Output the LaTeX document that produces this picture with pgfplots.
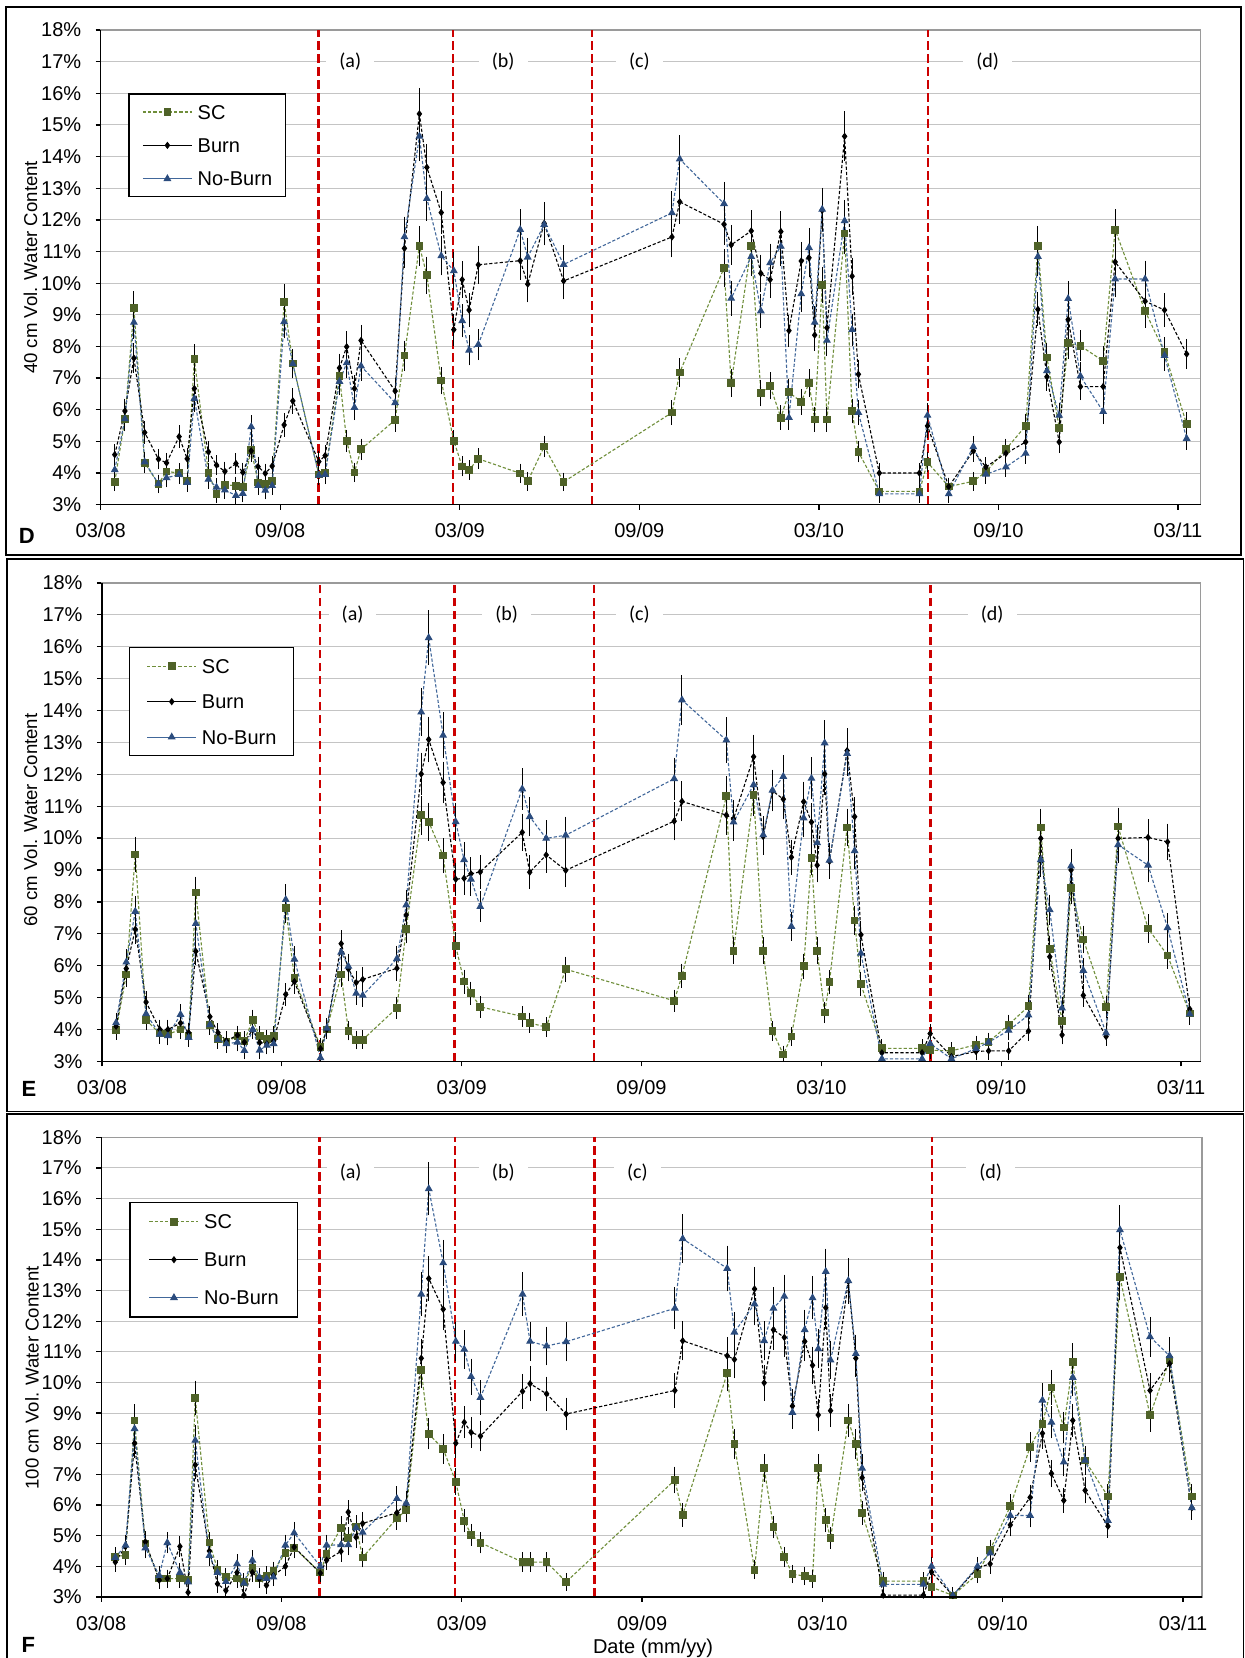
\documentclass[border=0pt]{standalone}
\usepackage{fontspec}
\setmainfont{Liberation Sans}
\newfontfamily\calibri{Carlito}
\usepackage{pgfplots}
\usepackage{pgfplotstable}
\pgfplotsset{compat=1.18}

\definecolor{scm}{HTML}{4F6228}
\definecolor{scl}{HTML}{6F8E3A}
\definecolor{nbm}{HTML}{2B4C7E}
\definecolor{nbl}{HTML}{41679A}
\definecolor{phase}{HTML}{CC0000}
\definecolor{gridc}{HTML}{C4C4C4}
\definecolor{boxc}{HTML}{9A9A9A}

% t = months after 1 March 2008; values in % volumetric water content
\pgfplotstableread{
t sc bu nb
0.47 3.72 4.58 4.10
0.81 5.71 5.96 5.71
1.11 9.21 7.63 8.76
1.47 4.32 5.28 4.35
1.93 3.66 4.44 3.66
2.20 4.05 4.32 3.85
2.62 4.00 5.15 3.95
2.89 3.75 4.45 3.70
3.13 7.60 6.67 6.35
3.60 4.00 4.67 3.80
3.87 3.34 4.25 3.55
4.15 3.63 4.05 3.46
4.52 3.60 4.30 3.29
4.75 3.55 4.02 3.35
5.03 4.73 4.70 5.46
5.26 3.70 4.20 3.60
5.50 3.65 3.99 3.45
5.73 3.75 4.22 3.60
6.13 9.41 5.52 8.78
6.42 7.46 6.28 7.45
7.29 3.95 4.36 3.93
7.50 4.00 4.55 3.95
7.98 7.06 7.32 6.89
8.22 5.01 7.99 7.48
8.48 4.02 6.67 6.07
8.70 4.75 8.19 7.38
9.84 5.68 6.59 6.22
10.15 7.71 11.10 11.46
10.65 11.18 15.35 14.64
10.90 10.25 13.66 12.67
11.38 6.92 12.23 10.86
11.80 5.01 8.53 10.39
12.08 4.21 10.11 8.81
12.31 4.10 9.15 7.88
12.62 4.45 10.58 8.06
14.02 3.99 10.71 11.69
14.27 3.74 9.97 10.82
14.82 4.84 11.89 11.85
15.47 3.72 10.07 10.59
19.09 5.91 11.46 12.22
19.35 7.18 12.57 13.92
20.83 10.48 11.86 12.51
21.07 6.84 11.21 9.52
21.74 11.18 11.65 10.84
22.06 6.53 10.31 9.12
22.37 6.76 10.11 10.64
22.73 5.75 11.63 11.16
23.00 6.55 8.50 5.75
23.41 6.25 10.70 9.66
23.67 6.84 10.80 11.12
23.86 5.69 8.36 8.76
24.11 9.94 12.30 12.33
24.27 5.69 8.59 8.19
24.86 11.57 14.64 11.97
25.11 5.96 10.22 8.53
25.32 4.67 7.12 5.91
26.02 3.42 4.00 3.34
27.36 3.42 4.00 3.34
27.63 4.34 5.49 5.82
28.34 3.57 3.57 3.34
29.16 3.74 4.70 4.83
29.58 4.04 4.19 3.96
30.25 4.75 4.62 4.19
30.91 5.49 4.98 4.62
31.32 11.18 9.17 10.84
31.62 7.65 7.04 7.23
32.03 5.43 4.98 5.82
32.33 8.10 8.85 9.51
32.74 8.02 6.73 7.06
33.50 7.54 6.73 5.94
33.90 11.69 10.67 10.13
34.90 9.12 9.43 10.13
35.55 7.82 9.15 7.71
36.29 5.54 7.76 5.09
}\dataD

\pgfplotstableread{
t sc bu nb
0.47 3.98 4.10 4.21
0.81 5.72 5.91 6.11
1.11 9.49 7.14 7.70
1.47 4.30 4.86 4.49
1.93 3.87 4.00 3.85
2.20 3.85 4.00 3.80
2.62 4.00 4.20 4.47
2.89 3.80 3.90 3.75
3.13 8.29 6.45 7.32
3.60 4.15 4.40 4.15
3.87 3.70 3.90 3.68
4.15 3.60 3.65 3.55
4.52 3.80 3.82 3.60
4.75 3.65 3.60 3.34
5.03 4.30 4.00 4.00
5.26 3.80 3.59 3.35
5.50 3.70 3.55 3.50
5.73 3.80 3.65 3.55
6.13 7.81 5.10 8.07
6.42 5.61 5.50 6.20
7.29 3.45 3.40 3.11
7.50 4.00 4.00 4.04
7.98 5.72 6.69 6.42
8.22 3.96 5.90 5.98
8.48 3.67 5.47 5.13
8.70 3.68 5.57 5.07
9.84 4.68 5.92 6.22
10.15 7.15 7.59 7.90
10.65 10.72 12.01 13.95
10.90 10.51 13.09 16.28
11.38 9.45 11.74 13.22
11.80 6.62 8.71 10.51
12.08 5.50 8.74 9.32
12.31 5.14 8.88 8.71
12.62 4.71 8.94 7.85
14.02 4.41 10.18 11.54
14.27 4.21 8.93 10.67
14.82 4.07 9.47 9.99
15.47 5.89 8.99 10.09
19.09 4.90 10.53 11.86
19.35 5.68 11.15 14.33
20.83 11.31 10.72 13.07
21.07 6.47 10.60 10.50
21.74 11.34 12.55 11.67
22.06 6.47 10.05 10.10
22.37 3.95 11.48 11.50
22.73 3.22 11.22 11.93
23.00 3.78 9.40 7.23
23.41 5.98 11.14 10.63
23.67 9.38 10.50 11.87
23.86 6.47 9.15 9.85
24.11 4.53 12.01 12.98
24.27 5.48 9.27 9.30
24.86 10.33 12.74 12.65
25.11 7.42 10.67 9.60
25.32 5.42 6.97 6.39
26.02 3.41 3.27 3.08
27.36 3.41 3.27 3.08
27.63 3.35 3.87 3.56
28.34 3.33 3.15 3.08
29.16 3.52 3.31 3.40
29.58 3.61 3.33 3.60
30.25 4.15 3.33 3.97
30.91 4.73 3.95 4.45
31.32 10.33 9.99 9.32
31.62 6.52 6.28 7.75
32.03 4.26 3.83 4.67
32.33 8.43 9.00 9.12
32.74 6.82 5.07 5.85
33.50 4.71 3.78 3.89
33.90 10.36 9.99 9.79
34.90 7.17 10.02 9.15
35.55 6.32 9.88 7.19
36.29 4.50 4.64 4.48
}\dataE

\pgfplotstableread{
t sc bu nb
0.47 4.30 4.14 4.29
0.81 4.37 4.65 4.69
1.11 8.76 8.02 8.49
1.47 4.75 4.80 4.60
1.93 3.60 3.55 3.70
2.20 3.60 3.60 4.77
2.62 3.60 4.65 3.80
2.89 3.55 3.15 3.49
3.13 9.50 7.31 8.11
3.60 4.78 4.50 4.35
3.87 3.90 3.43 3.80
4.15 3.65 3.21 3.50
4.52 3.60 3.80 4.08
4.75 3.50 3.06 3.45
5.03 3.95 3.80 4.20
5.26 3.60 3.60 3.65
5.50 3.70 3.38 3.60
5.73 3.85 3.70 3.65
6.13 4.44 4.00 4.69
6.42 4.60 4.63 5.09
7.29 3.80 3.78 4.00
7.50 4.40 4.20 4.69
7.98 5.26 4.49 4.70
8.22 4.92 5.77 4.70
8.48 5.30 4.95 5.26
8.70 4.29 5.40 5.11
9.84 5.57 5.75 6.21
10.15 5.83 6.05 6.06
10.65 10.41 10.79 12.88
10.90 8.32 13.39 16.32
11.38 7.83 12.39 13.90
11.80 6.76 8.02 11.34
12.08 5.49 8.70 11.08
12.31 5.03 8.37 10.19
12.62 4.77 8.25 9.51
14.02 4.14 9.71 12.88
14.27 4.14 9.96 11.34
14.82 4.14 9.63 11.19
15.47 3.49 8.97 11.33
19.09 6.82 9.74 12.42
19.35 5.68 11.36 14.69
20.83 10.30 10.87 13.72
21.07 7.99 10.75 11.64
21.74 3.89 13.05 12.56
22.06 7.20 9.99 11.36
22.37 5.28 11.72 12.42
22.73 4.31 11.47 12.81
23.00 3.75 9.23 9.02
23.41 3.68 11.34 11.72
23.67 3.60 10.56 12.76
23.86 7.20 8.94 11.10
24.11 5.51 12.44 13.62
24.27 4.92 9.08 10.73
24.86 8.76 13.30 13.32
25.11 7.99 10.79 10.94
25.32 5.74 6.89 7.20
26.02 3.52 3.06 3.41
27.36 3.52 3.06 3.41
27.63 3.32 3.81 4.00
28.34 3.05 3.05 3.05
29.16 3.75 3.95 4.00
29.58 4.54 4.08 4.43
30.25 5.96 5.35 5.66
30.91 7.90 6.25 5.66
31.32 8.64 8.34 9.42
31.62 9.84 7.03 8.70
32.03 8.53 6.15 7.40
32.33 10.67 8.76 10.16
32.74 7.45 6.48 7.46
33.50 6.28 5.31 5.49
33.90 13.43 14.40 14.98
34.90 8.93 9.74 11.49
35.55 10.73 10.61 10.87
36.29 6.28 5.91 5.91
}\dataF

\pgfplotsset{
  panel/.style={
    scale only axis, xmin=0, ymin=3, ymax=18,
    ytick={3,...,18}, xtick={0,6,...,36},
    xticklabels={03/08,09/08,03/09,09/09,03/10,09/10,03/11},
    yticklabel={\pgfmathprintnumber{\tick}\%},
    /pgf/number format/assume math mode=true,
    tick pos=left, tick align=outside, major tick length=2.5pt,
    tick style={black, line width=0.65pt},
    ymajorgrids, grid style={gridc, line width=0.5pt},
    axis line style={boxc, line width=0.65pt},
    ticklabel style={font=\fontsize{10}{12}\selectfont},
    xticklabel style={yshift=-3.3pt},
    yticklabel style={xshift=-3.7pt},
    after end axis/.append code={
      \draw[black, line width=0.65pt] (rel axis cs:0,1) -- (rel axis cs:0,0) -- (rel axis cs:1,0);},
    error bars/y dir=both, error bars/y fixed relative=0.045,
    error bars/error bar style={black, line width=0.5pt, solid},
    error bars/error mark options={black, line width=0.5pt, mark size=2pt, solid},
    legend cell align=left,
    legend image code/.code={
      \draw[##1] (0pt,0pt) -- (24.5pt,0pt);
      \draw[##1, solid] plot coordinates {(12.25pt,0pt)};
    },
  },
  sc/.style={scl, line width=0.55pt, dash pattern=on 1.6pt off 1pt,
    mark=square*, mark size=1.65pt, mark options={solid, fill=scm, draw=scm}},
  bu/.style={black, line width=0.55pt, dash pattern=on 1.6pt off 1pt,
    mark=diamond*, mark size=1.4pt, mark options={solid, fill=black}},
  nb/.style={nbl, line width=0.55pt, dash pattern=on 1.6pt off 1pt,
    mark=triangle*, mark size=1.75pt, mark options={solid, fill=nbm, draw=nbm}},
  buleg/.style={black, line width=0.55pt, solid,
    mark=diamond*, mark size=1.4pt, mark options={fill=black}},
  nbleg/.style={nbl, line width=0.55pt, solid,
    mark=triangle*, mark size=1.75pt, mark options={fill=nbm, draw=nbm}},
  legbox/.style n args={5}{legend style={at={(#1,#2)}, anchor=north west,
    draw=black, line width=0.65pt, fill=white,
    inner xsep=#3, inner ysep=#4, row sep=#5, column sep=2.6pt,
    font=\fontsize{10}{12}\selectfont,
    nodes={inner sep=0pt, text height=7.2pt, text depth=0pt}}},
}

% phase boundaries (dashed red) and phase labels
\newcommand\phases[5]{%
  \draw[phase, line width=1.3pt, dash pattern=on 4.3pt off 2.2pt] (axis cs:7.27,3) -- (axis cs:7.27,18);
  \draw[phase, line width=1.3pt, dash pattern=on 4.3pt off 2.2pt] (axis cs:11.77,3) -- (axis cs:11.77,18);
  \draw[phase, line width=1.3pt, dash pattern=on 4.3pt off 2.2pt] (axis cs:16.42,3) -- (axis cs:16.42,18);
  \draw[phase, line width=1.3pt, dash pattern=on 4.3pt off 2.2pt] (axis cs:27.65,3) -- (axis cs:27.65,18);
  \path[every node/.style={fill=white, inner xsep=6.5pt, inner ysep=1pt,
      font=\calibri\fontsize{10}{12}\selectfont, yshift=#5}]
    (axis cs:#1,17) node {(a)}
    (axis cs:#2,17) node {(b)}
    (axis cs:#3,17) node {(c)}
    (axis cs:#4,17) node {(d)};
}

\newcommand\series[1]{%
  \addplot[sc, forget plot] table[x=t, y=sc] {#1};
  \addplot[bu, forget plot] table[x=t, y=bu] {#1};
  \addplot[nb, forget plot] table[x=t, y=nb] {#1};
  \addlegendimage{sc}\addlegendentry{SC}
  \addlegendimage{buleg}\addlegendentry{Burn}
  \addlegendimage{nbleg}\addlegendentry{No-Burn}
}

\begin{document}
\begin{tikzpicture}[x=0.5pt, y=0.5pt]
\useasboundingbox (0,0) rectangle (1244,1658);
\fill[white] (0,0) rectangle (1244,1658);

% panel frames
\draw[line width=0.65pt] (6,1651) rectangle (1241,1103);
\draw[line width=0.65pt] (7,1099) rectangle (1243.5,546.5);
\draw[line width=0.65pt] (7,544) rectangle (1243.5,-20);

% D: 40 cm
\begin{axis}[panel, at={(50.35pt,576.65pt)}, anchor=south west,
  width=550pt, height=237.35pt, xmax=36.76,
  legbox={0.0251}{0.8666}{6.7pt}{5.4pt}{9.5pt}]
  \phases{8.34}{13.45}{18.0}{29.64}{0pt}
  \series{\dataD}
\end{axis}

% E: 60 cm
\begin{axis}[panel, at={(51pt,298.3pt)}, anchor=south west,
  width=549.4pt, height=239.25pt, xmax=36.66,
  legbox={0.0246}{0.866}{8.5pt}{5.7pt}{10.5pt}]
  \phases{8.36}{13.5}{17.93}{29.7}{0pt}
  \series{\dataE}
\end{axis}

% F: 100 cm
\begin{axis}[panel, at={(50.6pt,30.5pt)}, anchor=south west,
  width=550.4pt, height=229.85pt, xmax=36.63,
  legbox={0.0255}{0.860}{9.5pt}{6.1pt}{11.8pt}]
  \phases{8.3}{13.38}{17.84}{29.6}{-2.5pt}
  \series{\dataF}
\end{axis}

% axis titles and panel letters
\node[rotate=90, font=\fontsize{9.3}{11}\selectfont] at (30.5,1390.6) {40 cm Vol. Water Content};
\node[rotate=90, font=\fontsize{9.3}{11}\selectfont] at (30.6,838) {60 cm Vol. Water Content};
\node[rotate=90, font=\fontsize{9.3}{11}\selectfont] at (32,280) {100 cm Vol. Water Content};
\node[anchor=base, inner sep=0pt, font=\fontsize{10}{12}\selectfont] at (653,4.7) {Date (mm/yy)};
\node[anchor=base west, inner sep=0pt, font=\bfseries\fontsize{11}{13}\selectfont] at (18.4,1114.4) {D};
\node[anchor=base west, inner sep=0pt, font=\bfseries\fontsize{11}{13}\selectfont] at (21.2,561) {E};
\node[anchor=base west, inner sep=0pt, font=\bfseries\fontsize{11}{13}\selectfont] at (21.2,5.5) {F};
\end{tikzpicture}
\end{document}
